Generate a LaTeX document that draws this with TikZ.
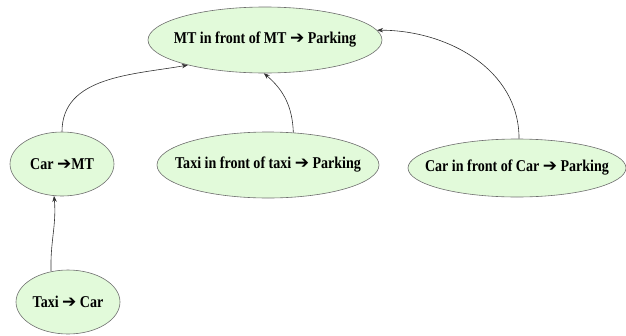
\documentclass[tikz,border=0pt]{standalone}
\usepackage{fontspec}
\newfontfamily\labelfont[FakeStretch=0.85]{Liberation Serif Bold}
\newfontfamily\arrowfont{DejaVu Sans Bold}
\usetikzlibrary{shapes.geometric,arrows.meta}
\definecolor{nodefill}{RGB}{226,250,218}
\definecolor{nodeline}{RGB}{110,110,110}
\definecolor{edgeline}{RGB}{50,50,50}
\newcommand{\thickarrow}{{\arrowfont\fontsize{17}{18}\selectfont\char"2794}}
\tikzset{
  rule/.style={ellipse, draw=nodeline, fill=nodefill, line width=0.6pt,
    inner xsep=-25pt, inner ysep=0pt,
    font=\labelfont\fontsize{16.5}{18}\selectfont},
  link/.style={draw=edgeline, line width=0.6pt, -{Stealth[length=6pt,width=4.5pt]}}
}
\begin{document}
\begin{tikzpicture}[x=1pt,y=-1pt]
\useasboundingbox (0,0) rectangle (626,335);
\node[rule, minimum width=234pt, minimum height=66pt] (mt) at (265,40) {MT in front of MT \thickarrow{} Parking};
\node[rule, minimum width=104pt, minimum height=64pt] (car) at (62,164) {Car \thickarrow MT};
\node[rule, minimum width=222pt, minimum height=66pt] (taxi) at (268,165) {Taxi in front of taxi \thickarrow{} Parking};
\node[rule, minimum width=218pt, minimum height=58pt] (cc) at (517,168) {Car in front of Car \thickarrow{} Parking};
\node[rule, minimum width=104pt, minimum height=64pt] (tc) at (68,302) {Taxi \thickarrow{} Car};
\draw[link] (tc.119) to[out=92,in=-85] (car.256);
\draw[link] (car.north) to[out=90,in=190] (mt.198);
\draw[link] (taxi.52) to[out=92,in=-40] (mt.268);
\draw[link] (cc.86) to[out=90,in=0] (mt.5);
\end{tikzpicture}
\end{document}
